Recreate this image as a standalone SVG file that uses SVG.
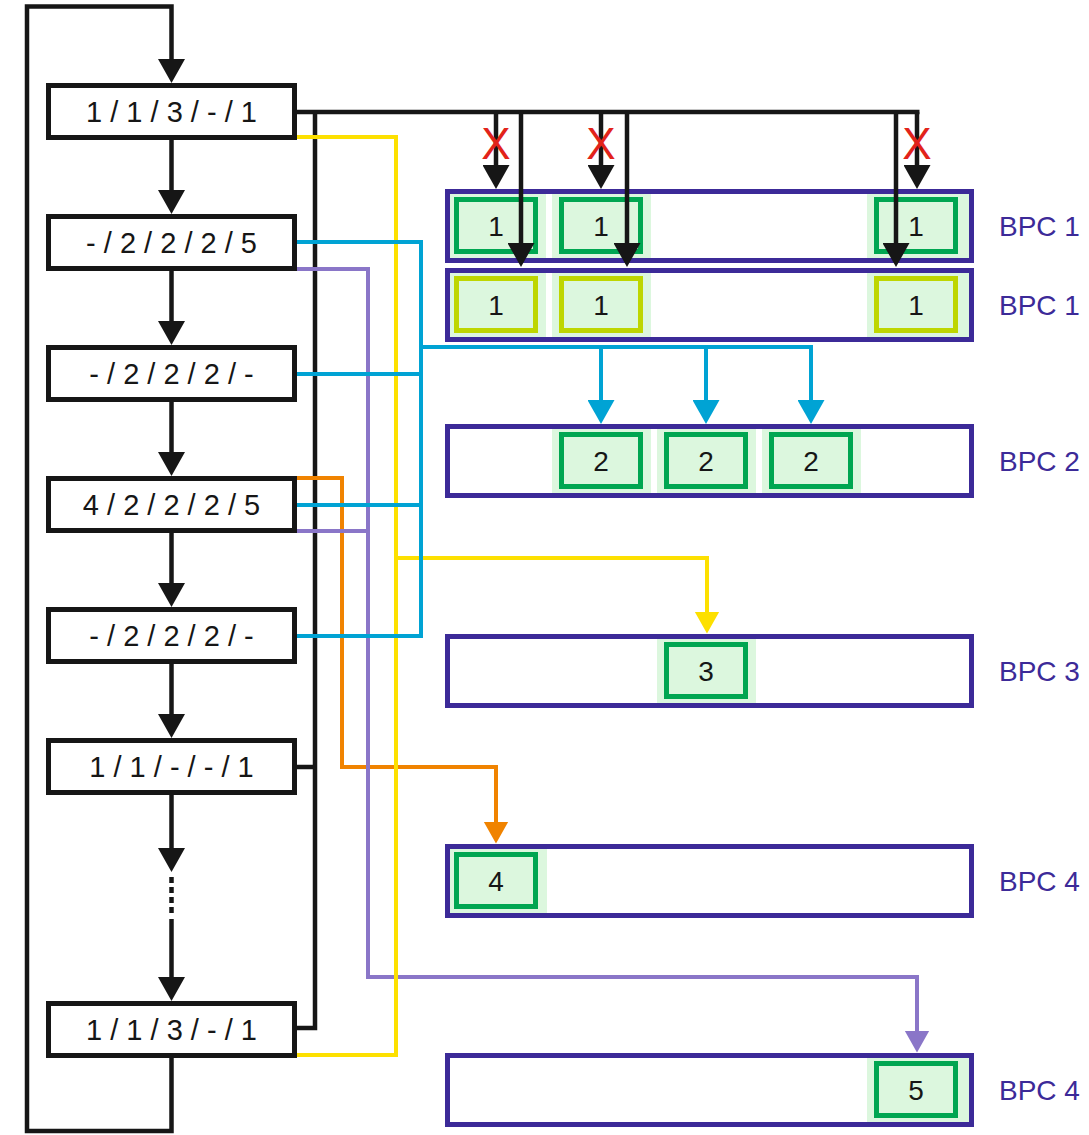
<svg xmlns="http://www.w3.org/2000/svg" width="1089" height="1135" viewBox="0 0 1089 1135">
<style>
.fb{fill:#fff;stroke:#161616;stroke-width:5}
.ft{font-family:"Liberation Sans",Arial,sans-serif;font-size:28px;fill:#161616;text-anchor:middle}
.ft2{font-family:"Liberation Sans",Arial,sans-serif;font-size:29px;fill:#161616;text-anchor:middle}
.bpc{fill:#fff;stroke:#3c2a98;stroke-width:5}
.bg{fill:#dcf7de}
.cg{fill:none;stroke:#00a651;stroke-width:5}
.cy{fill:none;stroke:#bed600;stroke-width:5}
.lbl{font-family:"Liberation Sans",Arial,sans-serif;font-size:28px;fill:#3c2a98}
.x{font-family:"Liberation Sans",Arial,sans-serif;font-size:44px;fill:#e2231a;text-anchor:middle}
.k{fill:none;stroke:#161616;stroke-width:4.5}
.c{fill:none;stroke:#00a3d4;stroke-width:4}
.y{fill:none;stroke:#fde000;stroke-width:4}
.p{fill:none;stroke:#8a76c8;stroke-width:4}
.o{fill:none;stroke:#f08300;stroke-width:4}
</style>
<defs>
<marker id="ak" viewBox="0 0 24 27" refX="19" refY="13.5" markerWidth="24" markerHeight="27" markerUnits="userSpaceOnUse" orient="auto"><path d="M0,0L24,13.5L0,27z" fill="#161616"/></marker>
<marker id="ac" viewBox="0 0 24 27" refX="19" refY="13.5" markerWidth="24" markerHeight="27" markerUnits="userSpaceOnUse" orient="auto"><path d="M0,0L24,13.5L0,27z" fill="#00a3d4"/></marker>
<marker id="ay" viewBox="0 0 24 27" refX="19" refY="13.5" markerWidth="22" markerHeight="26" markerUnits="userSpaceOnUse" orient="auto"><path d="M0,0L24,13.5L0,27z" fill="#fde000"/></marker>
<marker id="ap" viewBox="0 0 24 27" refX="19" refY="13.5" markerWidth="22" markerHeight="26" markerUnits="userSpaceOnUse" orient="auto"><path d="M0,0L24,13.5L0,27z" fill="#8a76c8"/></marker>
<marker id="ao" viewBox="0 0 24 27" refX="19" refY="13.5" markerWidth="22" markerHeight="26" markerUnits="userSpaceOnUse" orient="auto"><path d="M0,0L24,13.5L0,27z" fill="#f08300"/></marker>
</defs>

<g id="flow-nodes">
<g id="s1"><rect class="fb" x="48.5" y="85.5" width="246" height="52"/><text class="ft2" x="171.5" y="122">1 / 1 / 3 / - / 1</text></g>
<g id="s2"><rect class="fb" x="48.5" y="216.5" width="246" height="52"/><text class="ft2" x="171.5" y="253">- / 2 / 2 / 2 / 5</text></g>
<g id="s3"><rect class="fb" x="48.5" y="347.5" width="246" height="52"/><text class="ft2" x="171.5" y="384">- / 2 / 2 / 2 / -</text></g>
<g id="s4"><rect class="fb" x="48.5" y="478.5" width="246" height="52"/><text class="ft2" x="171.5" y="515">4 / 2 / 2 / 2 / 5</text></g>
<g id="s5"><rect class="fb" x="48.5" y="609.5" width="246" height="52"/><text class="ft2" x="171.5" y="646">- / 2 / 2 / 2 / -</text></g>
<g id="s6"><rect class="fb" x="48.5" y="740.5" width="246" height="52"/><text class="ft2" x="171.5" y="777">1 / 1 / - / - / 1</text></g>
<g id="s7"><rect class="fb" x="48.5" y="1003.5" width="246" height="52"/><text class="ft2" x="171.5" y="1040">1 / 1 / 3 / - / 1</text></g>
</g>

<g id="bpc-nodes">
<g id="bpc1a">
<rect class="bpc" x="447.5" y="191.5" width="524" height="69"/>
<rect class="bg" x="450" y="194" width="96" height="64"/><rect class="bg" x="552" y="194" width="99" height="64"/><rect class="bg" x="867" y="194" width="102" height="64"/>
<rect class="cg" x="456.5" y="199.5" width="79" height="52"/><rect class="cg" x="561.5" y="199.5" width="79" height="52"/><rect class="cg" x="876.5" y="199.5" width="79" height="52"/>
<text class="ft" x="496" y="235.5">1</text><text class="ft" x="601" y="235.5">1</text><text class="ft" x="916" y="235.5">1</text>
<text class="lbl" x="999" y="236">BPC 1</text>
</g>
<g id="bpc1b">
<rect class="bpc" x="447.5" y="270.5" width="524" height="69"/>
<rect class="bg" x="450" y="273" width="96" height="64"/><rect class="bg" x="552" y="273" width="99" height="64"/><rect class="bg" x="867" y="273" width="102" height="64"/>
<rect class="cy" x="456.5" y="278.5" width="79" height="52"/><rect class="cy" x="561.5" y="278.5" width="79" height="52"/><rect class="cy" x="876.5" y="278.5" width="79" height="52"/>
<text class="ft" x="496" y="314.5">1</text><text class="ft" x="601" y="314.5">1</text><text class="ft" x="916" y="314.5">1</text>
<text class="lbl" x="999" y="315">BPC 1</text>
</g>
<g id="bpc2">
<rect class="bpc" x="447.5" y="426.5" width="524" height="69"/>
<rect class="bg" x="552" y="429" width="99" height="64"/><rect class="bg" x="657" y="429" width="99" height="64"/><rect class="bg" x="762" y="429" width="99" height="64"/>
<rect class="cg" x="561.5" y="434.5" width="79" height="52"/><rect class="cg" x="666.5" y="434.5" width="79" height="52"/><rect class="cg" x="771.5" y="434.5" width="79" height="52"/>
<text class="ft" x="601" y="470.5">2</text><text class="ft" x="706" y="470.5">2</text><text class="ft" x="811" y="470.5">2</text>
<text class="lbl" x="999" y="471">BPC 2</text>
</g>
<g id="bpc3">
<rect class="bpc" x="447.5" y="636.5" width="524" height="69"/>
<rect class="bg" x="657" y="639" width="99" height="64"/>
<rect class="cg" x="666.5" y="644.5" width="79" height="52"/>
<text class="ft" x="706" y="680.5">3</text>
<text class="lbl" x="999" y="681">BPC 3</text>
</g>
<g id="bpc4a">
<rect class="bpc" x="447.5" y="846.5" width="524" height="69"/>
<rect class="bg" x="450" y="849" width="97" height="64"/>
<rect class="cg" x="456.5" y="854.5" width="79" height="52"/>
<text class="ft" x="496" y="890.5">4</text>
<text class="lbl" x="999" y="891">BPC 4</text>
</g>
<g id="bpc4b">
<rect class="bpc" x="447.5" y="1055.5" width="524" height="69"/>
<rect class="bg" x="867" y="1058" width="102" height="64"/>
<rect class="cg" x="876.5" y="1063.5" width="79" height="52"/>
<text class="ft" x="916" y="1099.5">5</text>
<text class="lbl" x="999" y="1100">BPC 4</text>
</g>
</g>

<g id="connectors">
<path class="k" d="M171.5,1058V1131H27V6.5H171.5V78" marker-end="url(#ak)"/>
<path class="k" d="M171.5,140V209" marker-end="url(#ak)"/>
<path class="k" d="M171.5,271V340" marker-end="url(#ak)"/>
<path class="k" d="M171.5,402V471" marker-end="url(#ak)"/>
<path class="k" d="M171.5,533V602" marker-end="url(#ak)"/>
<path class="k" d="M171.5,664V733" marker-end="url(#ak)"/>
<path class="k" d="M171.5,795V867" marker-end="url(#ak)"/>
<path class="k" d="M171.5,877V915" stroke-dasharray="6,4"/>
<path class="k" d="M171.5,919V996" marker-end="url(#ak)"/>
<path class="k" d="M297,112H919.5"/>
<path class="k" d="M315,112V1028H297"/>
<path class="k" d="M297,767H315"/>
<path class="k" d="M496,112V184" marker-end="url(#ak)"/>
<path class="k" d="M521,112V262" marker-end="url(#ak)"/>
<path class="k" d="M601,112V184" marker-end="url(#ak)"/>
<path class="k" d="M627,112V262" marker-end="url(#ak)"/>
<path class="k" d="M917,112V184" marker-end="url(#ak)"/>
<path class="k" d="M896,112V262" marker-end="url(#ak)"/>
<path class="o" d="M297,478H342V767H496V839" marker-end="url(#ao)"/>
<path class="p" d="M297,269H368V977H917V1048" marker-end="url(#ap)"/>
<path class="p" d="M297,531H368"/>
<path class="y" d="M297,137H396V1055H297"/>
<path class="y" d="M396,558H707V629" marker-end="url(#ay)"/>
<path class="c" d="M297,242H421V636H297"/>
<path class="c" d="M297,374H421"/>
<path class="c" d="M297,505H421"/>
<path class="c" d="M421,347H811V419" marker-end="url(#ac)"/>
<path class="c" d="M601,347V419" marker-end="url(#ac)"/>
<path class="c" d="M706,347V419" marker-end="url(#ac)"/>
<text class="x" x="496" y="159">X</text>
<text class="x" x="601" y="159">X</text>
<text class="x" x="917" y="159">X</text>
</g>
</svg>
